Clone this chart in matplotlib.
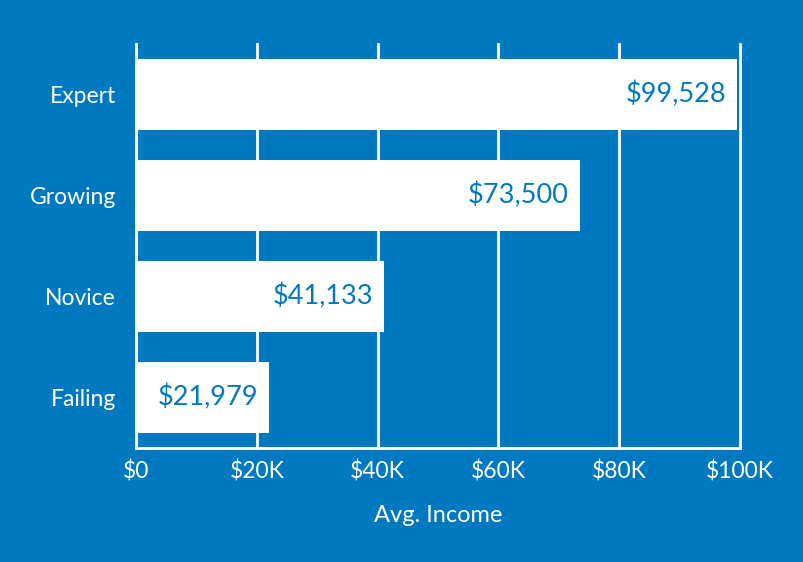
import matplotlib.pyplot as plt
from matplotlib.ticker import FuncFormatter

groups = ['Failing', 'Novice', 'Growing', 'Expert']
income = [21979, 41133, 73500, 99528]
xticks = [0, 20000, 40000, 60000, 80000, 100000]

blue = '#0079C1'
plt.rcParams['font.family'] = ['Lato', 'DejaVu Sans']

fig = plt.figure(figsize=(8.04, 5.62), dpi=100, facecolor=blue)
ax = fig.add_axes([0.1692, 0.2028, 0.7512, 0.7189])
ax.set_facecolor(blue)

pos = range(len(groups))
ax.barh(pos, income, height=0.7, color='white', zorder=3)
for p, v in zip(pos, income):
    ax.text(v - 1800, p, '${:,}'.format(v), ha='right', va='center',
            color=blue, fontsize=19.5, zorder=4)

ax.set_xlim(0, 100000)
ax.set_ylim(-0.5, 3.5)
ax.set_xticks(xticks)
ax.xaxis.set_major_formatter(FuncFormatter(lambda x, _: '$0' if x == 0 else '${:.0f}K'.format(x / 1000)))
ax.set_yticks(list(pos))
ax.set_yticklabels(groups)
ax.grid(axis='x', color='white', linewidth=2, zorder=1)
for gl in ax.get_xgridlines():
    gl.set_clip_on(False)
ax.tick_params(length=0, colors='white', labelsize=16.5)
ax.tick_params(axis='y', pad=14.5)
ax.tick_params(axis='x', pad=9)
for s in ['top', 'right']:
    ax.spines[s].set_visible(False)
for s in ['left', 'bottom']:
    ax.spines[s].set_color('white')
    ax.spines[s].set_linewidth(2)
ax.set_xlabel('Avg. Income', color='white', fontsize=17, labelpad=16)

fig.savefig('out.png', dpi=100, facecolor=blue)
